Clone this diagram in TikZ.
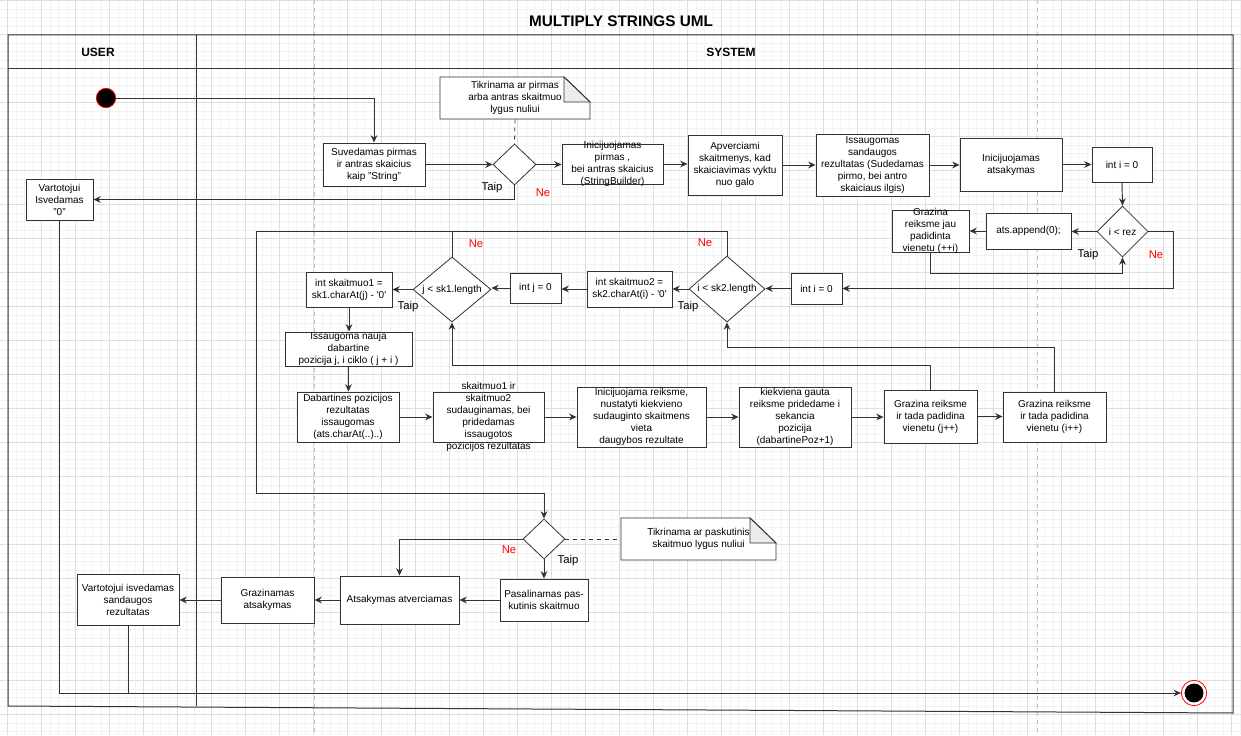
\documentclass[tikz,border=0pt]{standalone}
\usepackage{fontspec}
\setmainfont{Liberation Sans}
\usetikzlibrary{arrows.meta,shapes.geometric,calc}
\definecolor{gminor}{RGB}{243,243,243}
\definecolor{gmajor}{RGB}{222,222,222}
\definecolor{lineC}{RGB}{51,51,51}
\definecolor{pageC}{RGB}{195,195,195}
\definecolor{foldC}{RGB}{236,236,236}
\definecolor{neC}{RGB}{255,0,0}
\tikzset{
  box/.style={draw=lineC, line width=0.7pt, fill=white, inner sep=0pt, rectangle},
  txt/.style={font=\fontsize{7.5}{9}\selectfont, align=center, inner sep=0pt, text=black},
  arr/.style={draw=lineC, line width=0.7pt, -{Stealth[length=5.5pt,width=5pt]}},
  con/.style={draw=lineC, line width=0.7pt},
  dec/.style={diamond, draw=lineC, line width=0.6pt, fill=white, inner sep=0pt},
  notebox/.style={draw=lineC, line width=0.7pt},
  yes/.style={font=\fontsize{8.5}{10}\selectfont, text=black, inner sep=0pt},
  no/.style={font=\fontsize{8.5}{10}\selectfont, text=neC, inner sep=0pt},
  pool/.style={draw=lineC, line width=0.75pt},
  hdr/.style={font=\bfseries\fontsize{9}{11}\selectfont, inner sep=0pt}
}
\newcommand\bx[6]{\node[box, minimum width={(#4-#2)*0.75pt}, minimum height={(#5-#3)*0.75pt}, label={[txt]center:{#6}}] (#1) at ({(#2+#4)/2},{(#3+#5)/2}) {};}
\newcommand\dm[6]{\node[dec, minimum width={#4*0.75pt}, minimum height={#5*0.75pt}, label={[txt]center:{#6}}] (#1) at (#2,#3) {};}
\newcommand\nt[8]{%
  \fill[white] (#2,#3) -- (#6,#3) -- (#4,#7) -- (#4,#5) -- (#2,#5) -- cycle;
  \draw[notebox] (#2,#3) -- (#6,#3) -- (#4,#7) -- (#4,#5) -- (#2,#5) -- cycle;
  \draw[notebox, fill=foldC] (#6,#3) -- (#6,#7) -- (#4,#7) -- cycle;
  \node[inner sep=0pt, minimum width={(#4-#2)*0.75pt}, minimum height={(#5-#3)*0.75pt}, label={[txt]center:{#8}}] (#1) at ({(#2+#4)/2},{(#3+#5)/2}) {};}
\begin{document}
\begin{tikzpicture}[x=0.75pt,y=-0.75pt]
\useasboundingbox (0,0) rectangle (1241,735);
\fill[white] (0,0) rectangle (1241,735);
% grid
\foreach \i in {0,...,146} \draw[gminor, line width=0.5pt] ({-1+8.5*\i},0) -- ({-1+8.5*\i},735);
\foreach \i in {0,...,87} \draw[gminor, line width=0.5pt] (0,{0.5+8.5*\i}) -- (1241,{0.5+8.5*\i});
\foreach \i in {0,...,36} \draw[gmajor, line width=0.6pt] ({7.5+34*\i},0) -- ({7.5+34*\i},735);
\foreach \i in {0,...,21} \draw[gmajor, line width=0.6pt] (0,{0.5+34*\i}) -- (1241,{0.5+34*\i});
\draw[pageC, dashed, line width=0.5pt] (314,0) -- (314,735);
\draw[pageC, dashed, line width=0.5pt] (1037,0) -- (1037,735);
% title and pool
\node[font=\bfseries\fontsize{11.5}{13}\selectfont, inner sep=0pt] (title) at (621,21) {MULTIPLY STRINGS UML};
\draw[pool] (8,35) -- (1233,35) -- (1233,713) -- (8,706) -- cycle;
\draw[pool] (8,69) -- (1233,69);
\draw[pool] (196,35) -- (196,706);
\node[hdr] (userh) at (98,52) {USER};
\node[hdr] (sysh) at (731,52) {SYSTEM};
% start / end
\node[circle, fill=black, draw=red, line width=0.6pt, minimum size=14.5pt, inner sep=0pt] (start) at (106,98) {};
\node[circle, fill=white, draw=red, line width=0.6pt, minimum size=19pt, inner sep=0pt] (end) at (1194,693) {};
\fill[black] (end.center) circle (7.1pt);
% notes
\nt{n1}{440}{77}{590}{119}{564}{102}{Tikrinama ar pirmas\\arba antras skaitmuo\\lygus nuliui}
\nt{n2}{621}{518}{776}{560}{750}{543}{Tikrinama ar paskutinis\\skaitmuo lygus nuliui}
% boxes
\bx{b1}{323}{143}{425}{186}{Suvedamas pirmas\\ir antras skaicius\\kaip "String"}
\dm{d1}{514.5}{164.5}{43}{41}{}
\bx{b2}{562}{144}{663}{184}{Inicijuojamas\\pirmas ,\\bei antras skaicius\\(StringBuilder)}
\bx{b3}{688}{135}{782}{195}{Apverciami\\skaitmenys, kad\\skaiciavimas vyktu\\nuo galo}
\bx{b4}{816}{134}{929}{196}{Issaugomas\\sandaugos\\rezultatas (Sudedamas\\pirmo, bei antro\\skaiciaus ilgis)}
\bx{b5}{960}{138}{1062}{191}{Inicijuojamas\\atsakymas}
\bx{b6}{1092}{147}{1152}{182}{int i = 0}
\dm{d2}{1122.5}{231.5}{51}{51}{i < rez}
\bx{b7}{986}{213}{1071}{249}{ats.append(0);}
\bx{b8}{892}{210}{969}{252}{Grazina\\reiksme jau\\padidinta\\vienetu (++i)}
\bx{vz}{26}{179}{93}{220}{Vartotojui\\Isvedamas\\"0"}
\bx{b9}{791}{273}{842}{304}{int i = 0}
\dm{d3}{727}{289}{76}{66}{i < sk2.length}
\bx{b10}{587}{271}{672}{307}{int skaitmuo2 =\\sk2.charAt(i) - \textquotesingle 0\textquotesingle}
\bx{b11}{510}{273}{561}{303}{int j = 0}
\dm{d4}{452}{289.5}{78}{65}{j < sk1.length}
\bx{b12}{306}{272}{392}{307}{int skaitmuo1 =\\sk1.charAt(j) - \textquotesingle 0\textquotesingle}
\bx{b13}{285}{332}{412}{366}{Issaugoma nauja\\dabartine\\pozicija j, i ciklo ( j + i )}
\bx{b14}{297}{392}{399}{442}{Dabartines pozicijos\\rezultatas\\issaugomas\\(ats.charAt(..)..)}
\bx{b15}{433}{392}{544}{442}{skaitmuo1 ir\\skaitmuo2\\sudauginamas, bei\\pridedamas\\issaugotos\\pozicijos rezultatas}
\bx{b16}{577}{387}{706}{447}{Inicijuojama reiksme,\\nustatyti kiekvieno\\sudauginto skaitmens\\vieta\\daugybos rezultate}
\bx{b17}{739}{387}{851}{447}{kiekviena gauta\\reiksme pridedame i\\sekancia\\pozicija\\(dabartinePoz+1)}
\bx{b18}{884}{390}{977}{443}{Grazina reiksme\\ir tada padidina\\vienetu (j++)}
\bx{b19}{1003}{392}{1106}{442}{Grazina reiksme\\ir tada padidina\\vienetu (i++)}
\dm{d5}{544}{539}{42}{40}{}
\bx{b20}{500}{579}{588}{621}{Pasalinamas pas-\\kutinis skaitmuo}
\bx{b21}{340}{576}{459}{624}{Atsakymas atverciamas}
\bx{b22}{221}{577}{314}{623}{Grazinamas\\atsakymas}
\bx{b23}{77}{574}{179}{625}{Vartotojui isvedamas\\sandaugos\\rezultatas}
% helper coordinates
\coordinate (loopL) at (256,231);
\coordinate (loopB) at (256,493);
% connectors
\draw[arr] (start.east) -| (b1.north);
\draw[arr] (b1.east) -- (d1.west);
\draw[con, dashed, line width=0.6pt] (n1.south) -- (d1.north);
\draw[arr] (d1.south) |- (vz.east);
\draw[arr] (d1.east) -- (d1.east -| b2.west);
\draw[arr] (b2.east) -- (b2.east -| b3.west);
\draw[arr] (b3.east) -- (b3.east -| b4.west);
\draw[arr] (b4.east) -- (b4.east -| b5.west);
\draw[arr] (b5.east) -- (b5.east -| b6.west);
\draw[arr] (b6.south) -- (d2.north);
\draw[arr] (d2.west) -- (d2.west -| b7.east);
\draw[arr] (b7.west) -- (b7.west -| b8.east);
\draw[arr] (b8.south) -- ++(0,21) -| (d2.south);
\draw[arr] (d2.east) -- ++(25,0) |- (b9.east);
\draw[arr] (b9.west) -- (b9.west -| d3.east);
\draw[arr] (d3.west) -- (d3.west -| b10.east);
\draw[arr] (b10.west) -- (b10.west -| b11.east);
\draw[arr] (b11.west) -- (b11.west -| d4.east);
\draw[arr] (d4.west) -- (d4.west -| b12.east);
\draw[arr] (d3.north) |- (loopL) -- (loopB) -| (d5.north);
\draw[con] (d4.north) -- (d4.north |- loopL);
\draw[arr] (b12.south) -- (b12.south |- b13.north);
\draw[arr] (b13.south) -- (b13.south |- b14.north);
\draw[arr] (b14.east) -- (b14.east -| b15.west);
\draw[arr] (b15.east) -- (b15.east -| b16.west);
\draw[arr] (b16.east) -- (b16.east -| b17.west);
\draw[arr] (b17.east) -- (b17.east -| b18.west);
\draw[arr] (b18.east) -- (b18.east -| b19.west);
\draw[arr] (b18.north) -- ++(0,-24) -| (d4.south);
\draw[arr] (b19.north) -- ++(0,-44) -| (d3.south);
\draw[con, dashed, line width=0.6pt] (d5.east) -- (n2.west);
\draw[arr] (d5.south) -- (b20.north);
\draw[arr] (d5.west) -| (b21.north);
\draw[arr] (b20.west) -- (b20.west -| b21.east);
\draw[arr] (b21.west) -- (b21.west -| b22.east);
\draw[arr] (b22.west) -- (b22.west -| b23.east);
\draw[arr] (vz.south) |- (end.west);
\draw[con] (b23.south) -- (b23.south |- end.west);
% Taip / Ne labels
\node[yes] (t1) at (492,188) {Taip};
\node[no] (ne1) at (543,193) {Ne};
\node[yes] (t2) at (1088,255) {Taip};
\node[no] (ne2) at (1156,255) {Ne};
\node[no] (ne3) at (476,244) {Ne};
\node[yes] (t3) at (408,307) {Taip};
\node[no] (ne4) at (705,243) {Ne};
\node[yes] (t4) at (688,307) {Taip};
\node[no] (ne5) at (509,550) {Ne};
\node[yes] (t5) at (568,561) {Taip};
\end{tikzpicture}
\end{document}
